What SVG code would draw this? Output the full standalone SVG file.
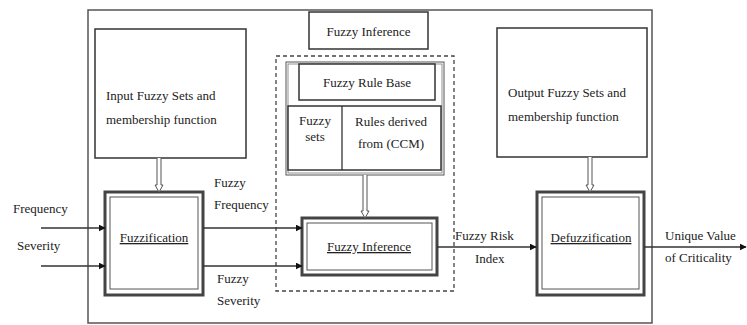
<svg xmlns="http://www.w3.org/2000/svg" width="747" height="325" viewBox="0 0 747 325">
<style>
text{font-family:'Liberation Serif','DejaVu Serif','Times New Roman',serif;font-size:13px;fill:#222}
.box{fill:#fff;stroke:#333;stroke-width:1.5}
.dbl{fill:#fff;stroke:#444;stroke-width:3}
.in{fill:none;stroke:#555;stroke-width:1}
.ln{stroke:#333;stroke-width:1.6;fill:none}
.hollow{fill:#fff;stroke:#555;stroke-width:1}
.u{text-decoration:underline}
</style>
<defs>
<marker id="ah" viewBox="0 0 10 10" refX="9" refY="5" markerWidth="7" markerHeight="7" markerUnits="userSpaceOnUse" orient="auto">
<path d="M0,0 L10,5 L0,10 z" fill="#111"/>
</marker>
</defs>
<rect id="frame" x="88" y="10" width="564" height="313" fill="none" stroke="#555" stroke-width="1.5"/>
<g id="input-sets">
<rect class="box" x="95" y="29" width="151" height="129"/>
<text x="106" y="100" font-family="Liberation Serif, serif">Input Fuzzy Sets and</text>
<text x="106" y="124" font-family="Liberation Serif, serif">membership function</text>
</g>
<g id="fi-title">
<rect class="box" x="309" y="12" width="119" height="37"/>
<text x="368.5" y="36" text-anchor="middle">Fuzzy Inference</text>
</g>
<rect id="dashed" x="276" y="56" width="178" height="235" fill="none" stroke="#444" stroke-width="1.3" stroke-dasharray="4,3"/>
<g id="rule-base">
<rect x="286" y="62" width="158" height="113" fill="#fff" stroke="#555" stroke-width="1"/>
<rect x="288" y="64" width="154" height="109" fill="none" stroke="#777" stroke-width="0.8"/>
<rect class="box" x="299" y="64" width="136" height="36"/>
<text x="367" y="87" text-anchor="middle">Fuzzy Rule Base</text>
<rect class="box" x="288" y="106" width="153" height="64"/>
<line x1="342" y1="106" x2="342" y2="170" stroke="#333" stroke-width="1.3"/>
<text x="315" y="125" text-anchor="middle" font-size="11">Fuzzy</text>
<text x="315" y="141" text-anchor="middle" font-size="11">sets</text>
<text x="391" y="126" text-anchor="middle">Rules derived</text>
<text x="391" y="148" text-anchor="middle">from (CCM)</text>
</g>
<g id="output-sets">
<rect class="box" x="497" y="28" width="150" height="129"/>
<text x="508" y="97">Output Fuzzy Sets and</text>
<text x="508" y="121">membership function</text>
</g>
<g id="fuzzification">
<rect class="dbl" x="105" y="192" width="98" height="103"/>
<rect class="in" x="110" y="197" width="88" height="92"/>
<text class="u" x="154" y="242" text-anchor="middle" font-size="12">Fuzzification</text>
</g>
<g id="fuzzy-inference">
<rect class="dbl" x="302" y="218" width="135" height="57"/>
<rect class="in" x="307" y="223" width="125" height="47"/>
<text class="u" x="369" y="251" text-anchor="middle">Fuzzy Inference</text>
</g>
<g id="defuzzification">
<rect class="dbl" x="537" y="192" width="107" height="103"/>
<rect class="in" x="542" y="197" width="97" height="92"/>
<text class="u" x="591" y="242" text-anchor="middle" font-size="12">Defuzzification</text>
</g>
<g id="connectors">
<path class="hollow" d="M157,158 V185 H155 L159,192 L163,185 H161 V158"/>
<path class="hollow" d="M363,175 V211 H361 L365,218 L369,211 H367 V175"/>
<path class="hollow" d="M588,157 V185 H586 L590,192 L594,185 H592 V157"/>
<line class="ln" x1="41" y1="228" x2="105" y2="228" marker-end="url(#ah)"/>
<line class="ln" x1="41" y1="266" x2="105" y2="266" marker-end="url(#ah)"/>
<line class="ln" x1="203" y1="228" x2="302" y2="228" marker-end="url(#ah)"/>
<line class="ln" x1="203" y1="266" x2="302" y2="266" marker-end="url(#ah)"/>
<line class="ln" x1="437" y1="247" x2="536" y2="247" marker-end="url(#ah)"/>
<line class="ln" x1="644" y1="247" x2="746" y2="247" marker-end="url(#ah)"/>
</g>
<g id="labels">
<text x="13" y="213">Frequency</text>
<text x="17" y="250">Severity</text>
<text x="214" y="187">Fuzzy</text>
<text x="214" y="209">Frequency</text>
<text x="217" y="283">Fuzzy</text>
<text x="217" y="305">Severity</text>
<text x="455" y="240">Fuzzy Risk</text>
<text x="475" y="263">Index</text>
<text x="665" y="240">Unique Value</text>
<text x="665" y="262">of Criticality</text>
</g>
</svg>
